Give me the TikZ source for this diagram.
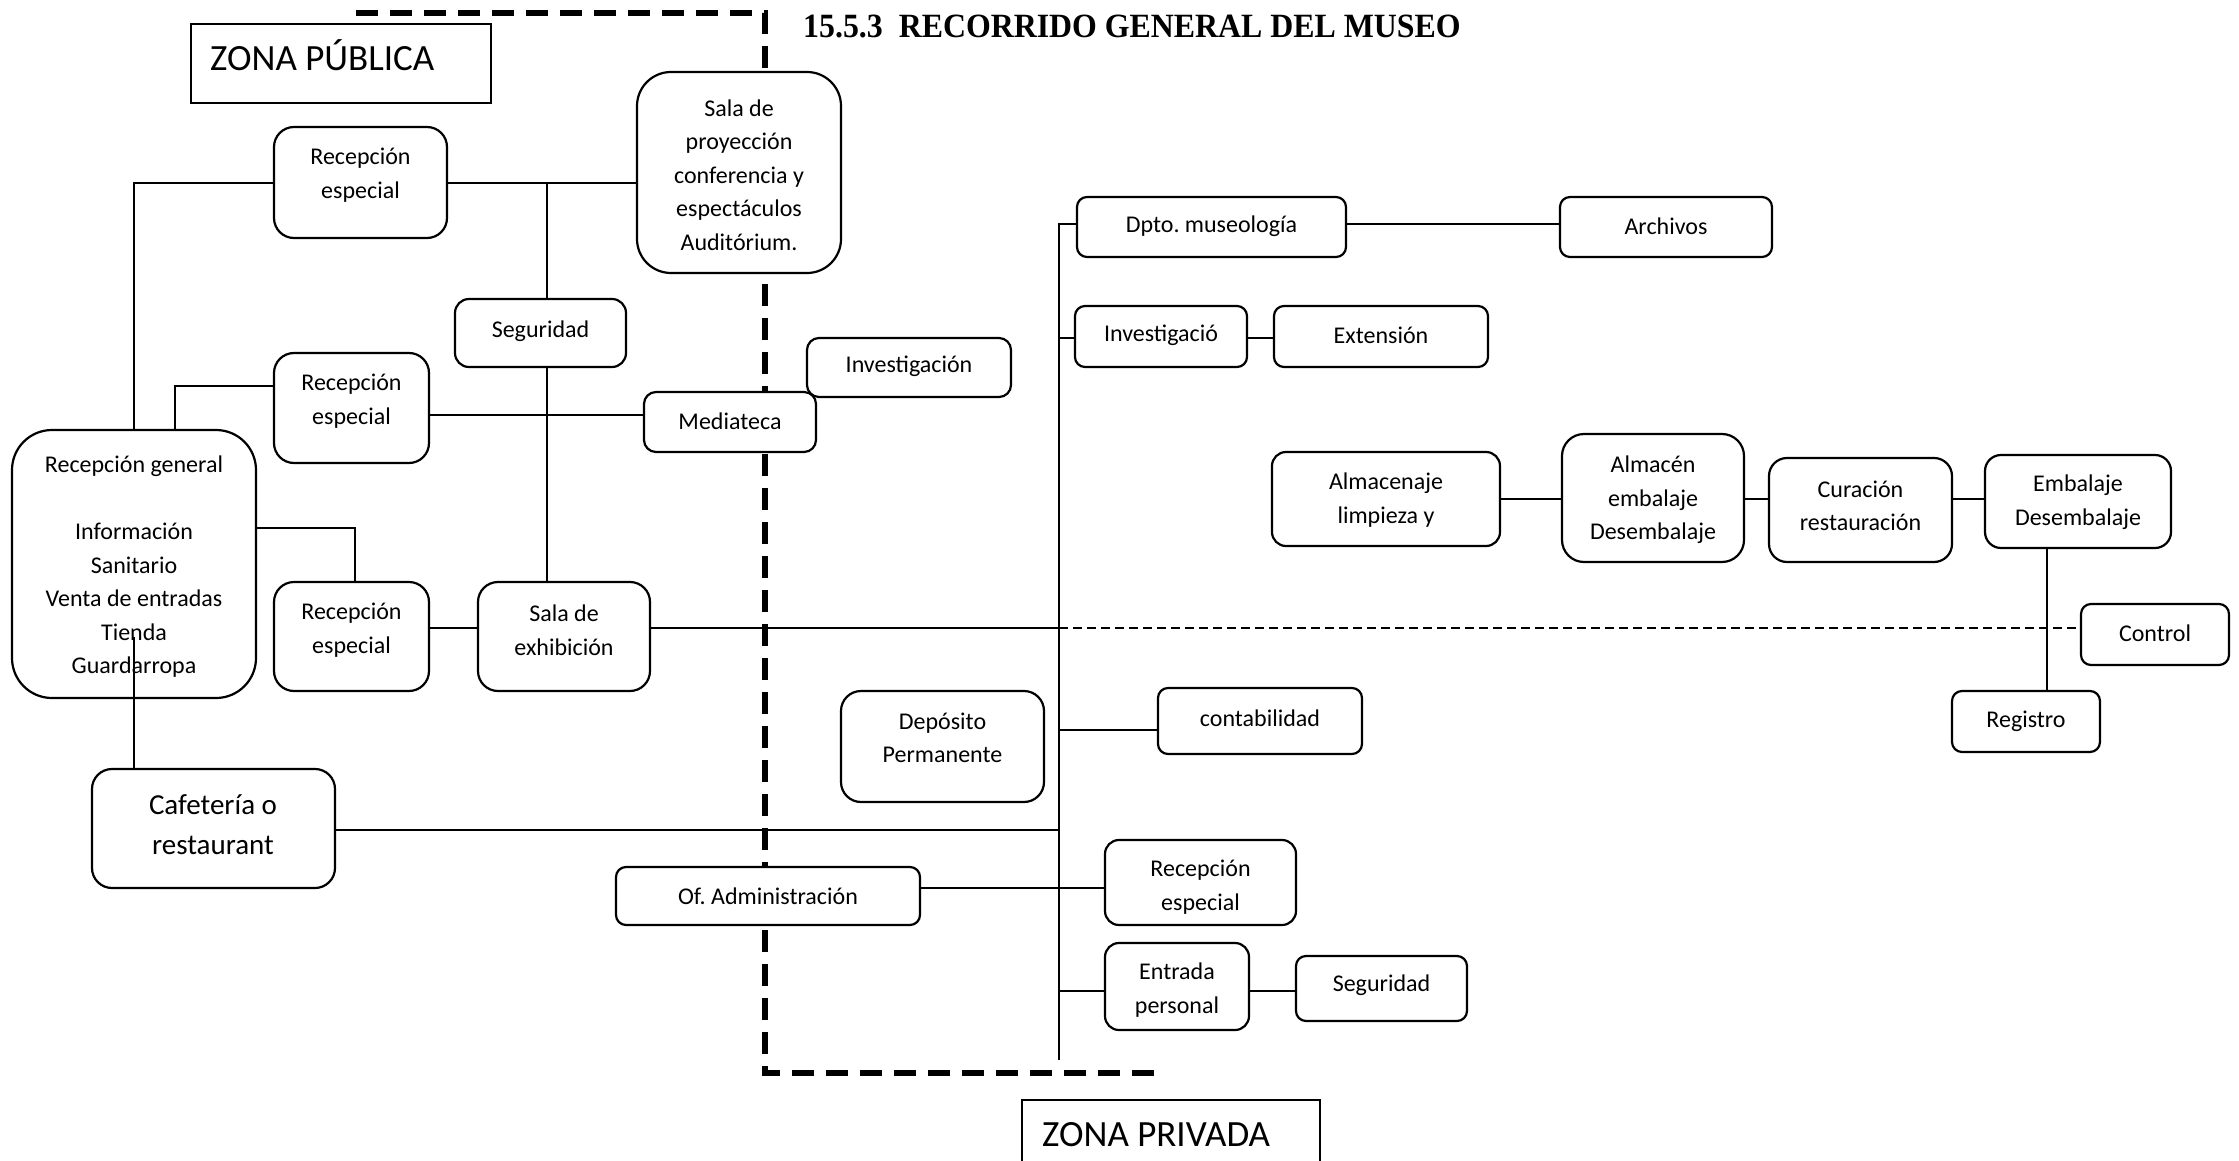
\documentclass[tikz,border=0pt]{standalone}
\usepackage{fontspec}
\newfontfamily\carl{Carlito}
\newfontfamily\tms{Liberation Serif}
\frenchspacing
\tikzset{
  rbox/.style={draw, line width=2.2pt, fill=white, inner sep=0pt, outer sep=0pt},
  btxt/.style={font=\carl\fontsize{24}{33.5}\selectfont, align=center, inner sep=0pt},
  conn/.style={line width=2pt},
  zone/.style={line width=5.5pt, dash pattern=on 22pt off 12pt},
  thindash/.style={line width=2.2pt, dash pattern=on 9pt off 5pt},
  zonetxt/.style={font=\carl\fontsize{37}{40}\selectfont, anchor=base west, inner sep=0pt},
}
% name, x1, y1, x2, y2, radius, text centre y, text
\newcommand\rb[8]{%
  \node[rbox, rounded corners=#6pt, minimum width={(#4)-(#2)}, minimum height={(#5)-(#3)}]
    (#1) at ({((#2)+(#4))/2},{((#3)+(#5))/2}) {};
  \node[btxt] (#1t) at ({((#2)+(#4))/2},#7) {#8};}
\begin{document}
\begin{tikzpicture}[x=1pt,y=-1pt]
\useasboundingbox (0,0) rectangle (2239,1161);
% zone boundary
\draw[zone] (356,13) -- (765,13) -- (765,1073) -- (1160,1073);
% title
\node[font=\tms\bfseries\fontsize{34}{38}\selectfont, anchor=base west, inner sep=0pt, xscale=0.937]
  (title) at (803,38) {15.5.3\hspace{0.5em}RECORRIDO GENERAL DEL MUSEO};
% zone labels
\draw[line width=2pt] (191,24) rectangle (491,103);
\node[zonetxt] (zpub) at (210,71) {ZONA PÚBLICA};
\draw[line width=2pt] (1022,1175) -- (1022,1100) -- (1320,1100) -- (1320,1175);
\node[zonetxt] (zpriv) at (1042,1146) {ZONA PRIVADA};
% boxes
\rb{sp}{637}{72}{841}{273}{34}{175}{Sala de\\proyección\\conferencia y\\espectáculos\\Auditórium.}
\rb{reA}{274}{127}{447}{238}{20}{175}{Recepción\\especial}
\rb{segA}{455}{299}{626}{367}{14}{331}{Seguridad}
\rb{reB}{274}{353}{429}{463}{20}{401}{Recepción\\especial}
\rb{med}{644}{392}{816}{452}{12}{421}{Mediateca}
\rb{invA}{807}{338}{1011}{397}{12}{366}{Investigación}
\rb{rg}{12}{430}{256}{698}{40}{567}{Recepción general\\[33.5pt]Información\\Sanitario\\Venta de entradas\\Tienda\\Guardarropa}
\rb{reC}{274}{582}{429}{691}{20}{630}{Recepción\\especial}
\rb{se}{478}{582}{650}{691}{20}{630}{Sala de\\exhibición}
\node[rbox, rounded corners=20pt, minimum width=243pt, minimum height=119pt] (caf) at (213.5,828.5) {};
\node[btxt, font=\carl\fontsize{29}{40}\selectfont] (caft) at (213,825) {Cafetería o\\restaurant};
\rb{dep}{841}{691}{1044}{802}{20}{738}{Depósito\\Permanente}
\rb{dpto}{1077}{197}{1346}{257}{10}{226}{Dpto. museología}
\rb{arch}{1560}{197}{1772}{257}{10}{226}{Archivos}
\rb{invB}{1075}{306}{1247}{367}{10}{335}{Investigació}
\rb{ext}{1274}{306}{1488}{367}{10}{335}{Extensión}
\rb{almA}{1272}{452}{1500}{546}{14}{500}{Almacenaje\\limpieza y}
\rb{almB}{1562}{434}{1744}{562}{22}{500}{Almacén\\embalaje\\Desembalaje}
\rb{cur}{1769}{458}{1952}{562}{18}{506}{Curación\\restauración}
\rb{emb}{1985}{455}{2171}{548}{16}{502}{Embalaje\\Desembalaje}
\rb{ctl}{2081}{604}{2229}{665}{10}{633}{Control}
\rb{cont}{1158}{688}{1362}{754}{10}{718}{contabilidad}
\rb{reg}{1952}{691}{2100}{752}{10}{721}{Registro}
\rb{adm}{616}{867}{920}{925}{10}{896}{Of. Administración}
\rb{reD}{1105}{840}{1296}{925}{14}{887}{Recepción\\especial}
\rb{ent}{1105}{943}{1249}{1030}{14}{990}{Entrada\\personal}
\rb{segB}{1296}{956}{1467}{1021}{10}{985}{Seguridad}
% junctions
\coordinate (j1) at (547,183);
\coordinate (vtop) at (1059,224);
\coordinate (vbot) at (1059,1060);
\coordinate (vexh) at (1059,628);
% connectors, public zone
\draw[conn] (rg.north) |- (reA.west |- 0,183);
\draw[conn] (reA.east |- 0,183) -- (sp.west |- 0,183);
\draw[conn] (segA.north -| j1) -- (j1);
\draw[conn] (segA.south -| j1) -- (se.north -| j1);
\draw[conn] (reB.west |- 0,386) -| (rg.north -| 175,0);
\draw[conn] (reB.east |- 0,415) -- (med.west |- 0,415);
\draw[conn] (rg.east |- 0,528) -| (reC.north -| 355,0);
\draw[conn] (reC.east |- 0,628) -- (se.west |- 0,628);
\draw[conn] (se.east |- 0,628) -- (vexh);
\draw[thindash] (vexh) -- (ctl.west |- vexh);
\draw[conn] (caf.north -| rg.north) -- (rg.north |- 0,637);
\draw[conn] (caf.east |- 0,830) -- (vtop |- 0,830);
% connectors, private zone
\draw[conn] (dpto.west |- vtop) -- (vtop) -- (vbot);
\draw[conn] (dpto.east |- vtop) -- (arch.west |- vtop);
\draw[conn] (vtop |- 0,338) -- (invB.west |- 0,338);
\draw[conn] (invB.east |- 0,338) -- (ext.west |- 0,338);
\draw[conn] (almA.east |- 0,499) -- (almB.west |- 0,499);
\draw[conn] (almB.east |- 0,499) -- (cur.west |- 0,499);
\draw[conn] (cur.east |- 0,499) -- (emb.west |- 0,499);
\draw[conn] (emb.south -| 2047,0) -- (reg.north -| 2047,0);
\draw[conn] (vtop |- 0,730) -- (cont.west |- 0,730);
\draw[conn] (adm.east |- 0,888) -- (reD.west |- 0,888);
\draw[conn] (vtop |- 0,991) -- (ent.west |- 0,991);
\draw[conn] (ent.east |- 0,991) -- (segB.west |- 0,991);
\end{tikzpicture}
\end{document}
